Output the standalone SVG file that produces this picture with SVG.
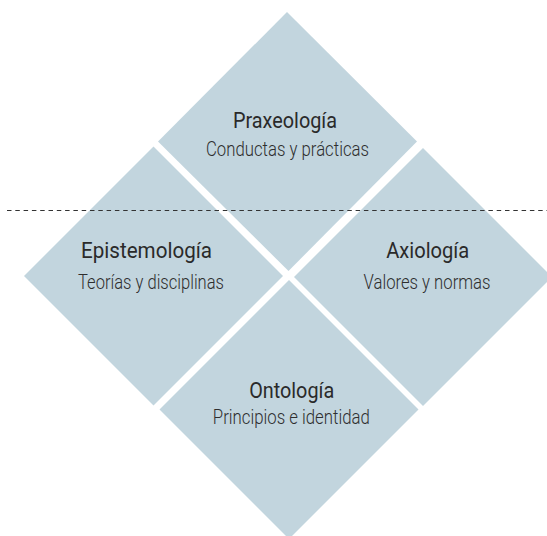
<svg xmlns="http://www.w3.org/2000/svg" width="547" height="536" viewBox="0 0 547 536">
<style>
.d{fill:#c2d5de}
.t{font-family:Roboto,"Liberation Sans",sans-serif;font-size:22.5px;font-weight:400;fill:#2a2a2a;text-anchor:middle}
.s{font-family:Roboto,"Liberation Sans",sans-serif;font-size:20px;font-weight:300;fill:#2e2e2e;text-anchor:middle}
.dash{stroke:#333;stroke-width:1;stroke-dasharray:4.5 3.8;fill:none}
</style>
<rect width="547" height="536" fill="#fff"/>
<g id="praxeologia">
<polygon class="d" points="287,12 417,141.5 288.5,271 158,141.5"/>
<text class="t" x="285" y="127.5" textLength="104" lengthAdjust="spacingAndGlyphs">Praxeología</text>
<text class="s" x="287.5" y="155.5" textLength="163" lengthAdjust="spacingAndGlyphs">Conductas y prácticas</text>
</g>
<g id="epistemologia">
<polygon class="d" points="153.5,146.5 283,276 153.5,405.5 24,276"/>
<text class="t" x="146.5" y="258" textLength="131" lengthAdjust="spacingAndGlyphs">Epistemología</text>
<text class="s" x="151" y="289" textLength="146" lengthAdjust="spacingAndGlyphs">Teorías y disciplinas</text>
</g>
<g id="axiologia">
<polygon class="d" points="423,148 552,277 423,406 294,277"/>
<text class="t" x="427.7" y="257.5" textLength="83" lengthAdjust="spacingAndGlyphs">Axiología</text>
<text class="s" x="427" y="289" textLength="127" lengthAdjust="spacingAndGlyphs">Valores y normas</text>
</g>
<g id="ontologia">
<polygon class="d" points="289,280 418.5,409.5 289,539 159.5,409.5"/>
<text class="t" x="291.7" y="397.5" textLength="85" lengthAdjust="spacingAndGlyphs">Ontología</text>
<text class="s" x="291.3" y="424" textLength="157" lengthAdjust="spacingAndGlyphs">Principios e identidad</text>
</g>
<g id="connectors">
<line class="dash" x1="7" y1="210.5" x2="547" y2="210.5"/>
</g>
</svg>
